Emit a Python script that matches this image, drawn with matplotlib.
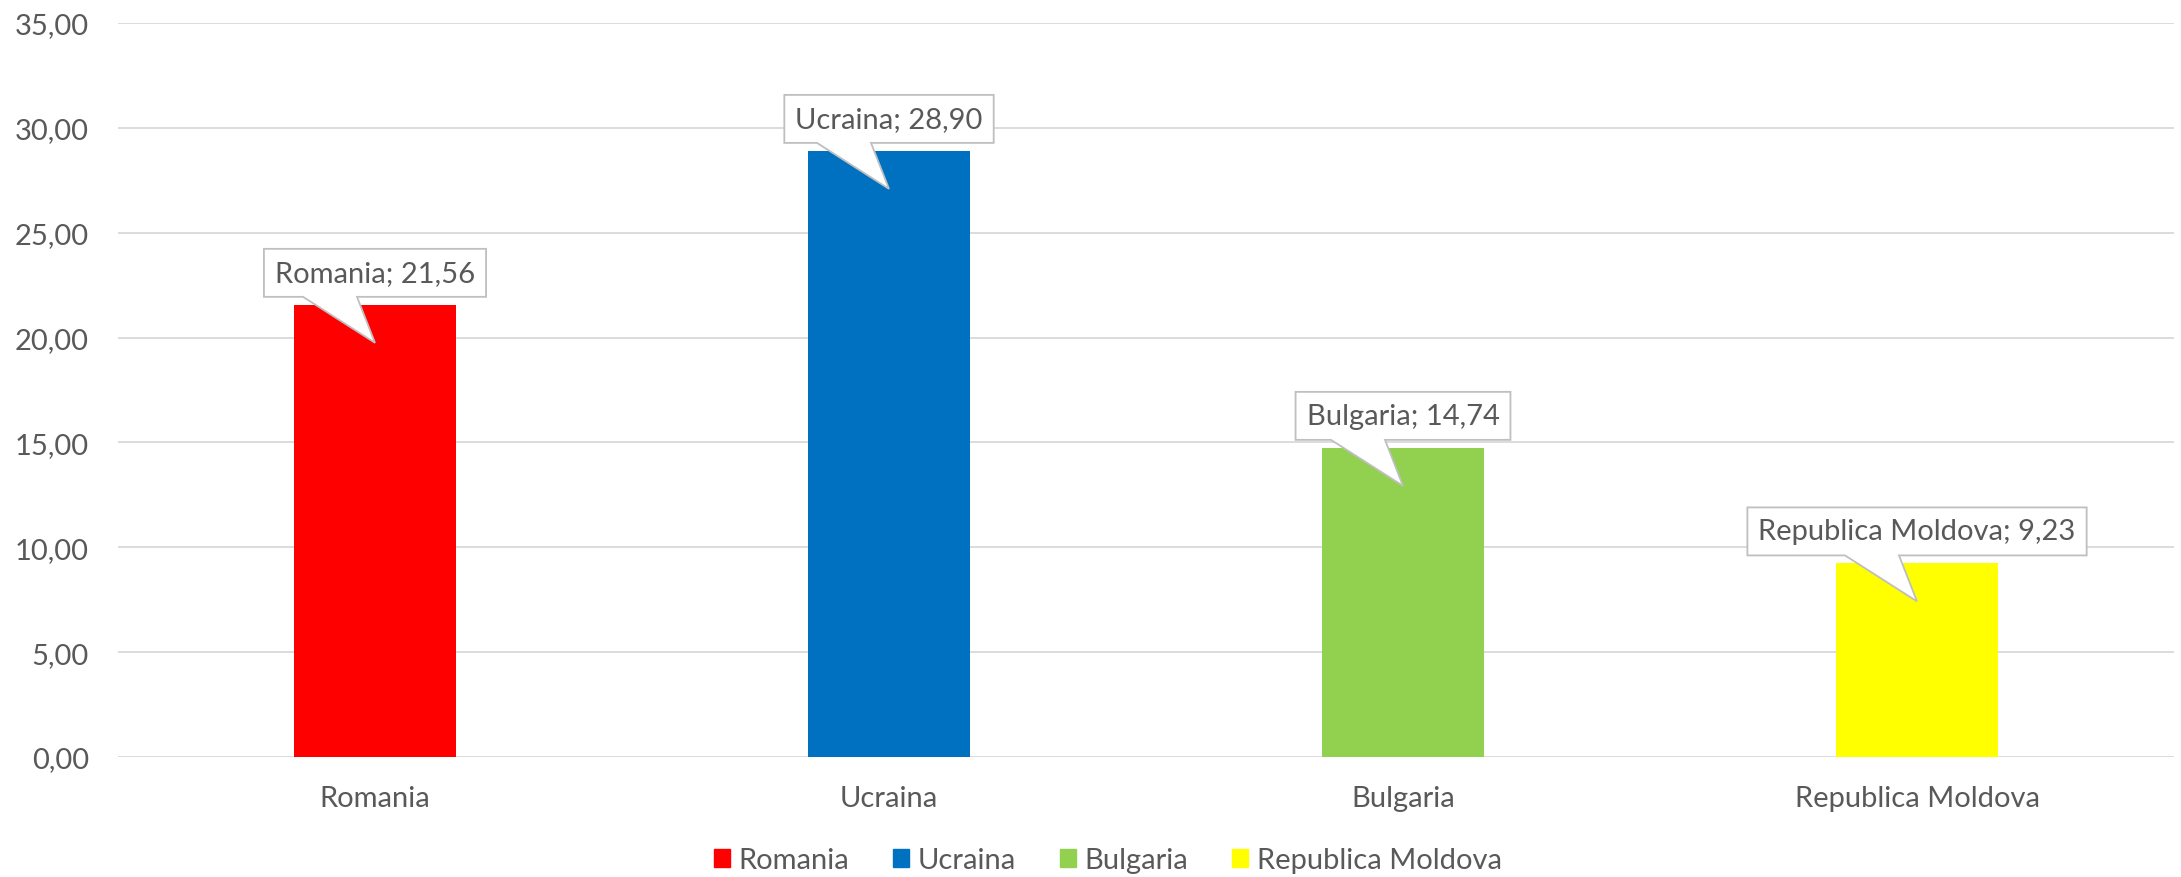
import matplotlib
matplotlib.use("Agg")
import matplotlib.pyplot as plt
from matplotlib.patches import Polygon
from matplotlib.ticker import FuncFormatter

countries = ["Romania", "Ucraina", "Bulgaria", "Republica Moldova"]
values = [21.56, 28.90, 14.74, 9.23]
colors = ["#FF0000", "#0070C0", "#92D050", "#FFFF00"]
yticks = [0, 5, 10, 15, 20, 25, 30, 35]

plt.rcParams["font.family"] = ["Lato", "DejaVu Sans"]
text_col = "#595959"
fs = 21

fig = plt.figure(figsize=(21.81, 8.78), dpi=100)
ax = fig.add_axes([0.0541, 0.1367, 0.9427, 0.836])

x = list(range(len(countries)))
bars = ax.bar(x, values, width=0.315, color=colors, zorder=2, label=countries)

ax.set_xlim(-0.5, len(countries) - 0.5)
ax.set_ylim(0, 35)
ax.set_yticks(yticks)
ax.yaxis.set_major_formatter(FuncFormatter(lambda v, p: "{:.2f}".format(v).replace(".", ",")))
ax.set_xticks(x)
ax.set_xticklabels(countries)
ax.tick_params(axis="both", length=0, labelsize=fs, labelcolor=text_col)
ax.tick_params(axis="y", pad=21)
ax.tick_params(axis="x", pad=20)
ax.grid(axis="y", color="#D9D9D9", linewidth=1.3, zorder=0)
for s in ax.spines.values():
    s.set_visible(False)

handles = [plt.Rectangle((0, 0), 1, 1, color=c) for c in colors]
fig.legend(handles, countries, loc="center", bbox_to_anchor=(0.508, 0.019),
           ncol=4, frameon=False, fontsize=fs, labelcolor=text_col,
           handlelength=0.55, handleheight=0.55, handletextpad=0.3, columnspacing=1.5)

# callouts
fig.canvas.draw()
renderer = fig.canvas.get_renderer()
for i, (name, v) in enumerate(zip(countries, values)):
    cx, top = ax.transData.transform((i, v))
    bot = top + 8
    btop = bot + 48
    label = "{}; {}".format(name, "{:.2f}".format(v).replace(".", ","))
    t = fig.text(cx, (bot + btop) / 2, label, transform=None, ha="center", va="center",
                 fontsize=fs, color=text_col, zorder=6)
    ext = t.get_window_extent(renderer)
    L = ext.x0 - 11
    R = ext.x1 + 11
    pts = [(L, bot), (cx - 72, bot), (cx, top - 38), (cx - 18, bot),
           (R, bot), (R, btop), (L, btop)]
    fig.patches.append(Polygon(pts, closed=True, transform=None, facecolor="white",
                               edgecolor="#BFBFBF", linewidth=1.3, zorder=5))

fig.savefig("out.png", dpi=100)
